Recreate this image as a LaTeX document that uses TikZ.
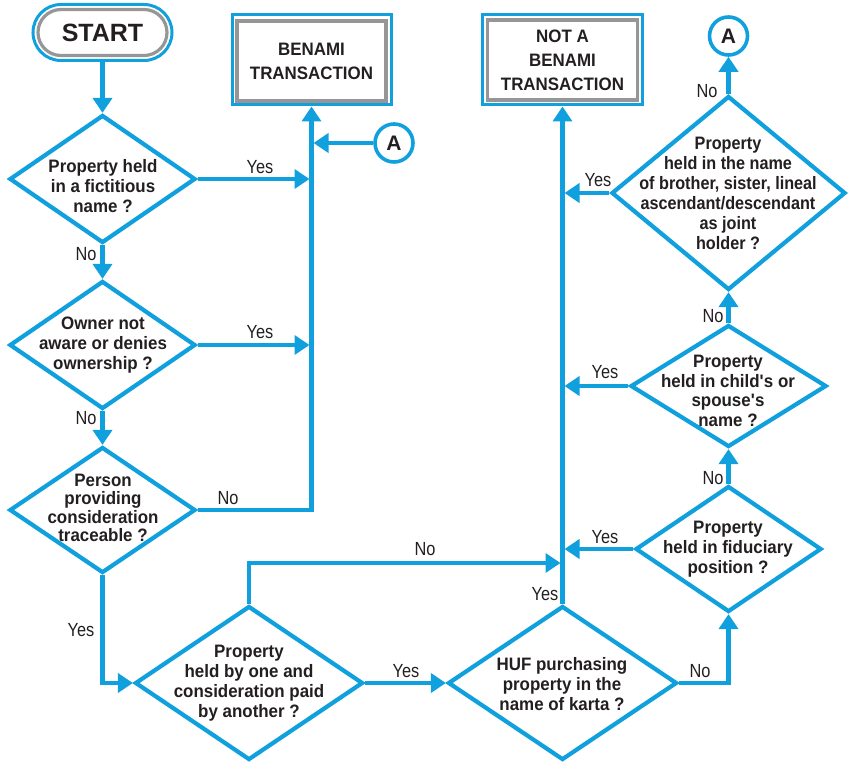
\documentclass[tikz,border=0pt]{standalone}
\usepackage{fontspec}
\setmainfont{Liberation Sans}
\newfontfamily\labfont[FakeStretch=0.86]{Liberation Sans}
\newfontfamily\dfont[FakeStretch=0.94]{Liberation Sans}
\newfontfamily\cbfont[FakeStretch=0.9]{Liberation Sans}
\usetikzlibrary{shapes.geometric,arrows.meta}
\definecolor{fblue}{RGB}{16,160,222}
\definecolor{fgray}{RGB}{150,150,150}
\definecolor{ftext}{RGB}{35,31,32}
\tikzset{
  dia/.style={diamond, draw=fblue, line width=4.2pt, inner sep=0pt, fill=white},
  dtext/.style={align=center, text=ftext, inner sep=0pt, font=\dfont\bfseries\fontsize{18}{20}\selectfont},
  outbox/.style={rectangle, draw=fblue, line width=3pt, inner sep=0pt},
  inbox/.style={rectangle, draw=fgray, line width=3.2pt, inner sep=0pt, align=center, text=ftext, font=\dfont\bfseries\fontsize{18}{24}\selectfont},
  conn/.style={draw=fblue, line width=4.2pt},
  arr/.style={conn, -{Triangle[length=15pt,width=19pt]}},
  lab/.style={text=ftext, inner sep=0pt, font=\labfont\fontsize{19}{19}\selectfont},
  circ/.style={circle, draw=fblue, line width=3.6pt, minimum size=38pt, inner sep=0pt, text=ftext, font=\bfseries\fontsize{21}{21}\selectfont}
}
\begin{document}
\begin{tikzpicture}[x=1pt,y=-1pt]
\useasboundingbox (0,0) rectangle (850,762);
% terminals and boxes
\node[outbox, minimum width=139pt, minimum height=56pt, rounded corners=28pt] (start) at (102.5,32.5) {};
\node[rectangle, draw=fgray, line width=3.2pt, minimum width=129pt, minimum height=46pt, rounded corners=23pt, text=ftext, font=\bfseries\fontsize{25}{25}\selectfont] (startin) at (start) {START};
\node[outbox, minimum width=159pt, minimum height=90pt] (benami) at (311.5,60) {};
\node[inbox, minimum width=149pt, minimum height=80pt] (benamiin) at (311.5,61) {BENAMI\\TRANSACTION};
\node[outbox, minimum width=160pt, minimum height=90pt] (nab) at (562.5,60) {};
\node[inbox, minimum width=150pt, minimum height=80pt] (nabin) at (nab) {NOT A\\BENAMI\\TRANSACTION};
\node[circ] (a1) at (394,143) {A};
\node[circ] (a2) at (728.5,36) {A};
% diamonds
\node[dia, minimum width=186pt, minimum height=128pt] (d1) at (102.5,179) {};
\node[dtext] (t1) at (103,186) {Property held\\in a fictitious\\name ?};
\node[dia, minimum width=186pt, minimum height=128pt] (d2) at (102.5,345) {};
\node[dtext] (t2) at (103,345) {Owner not\\aware or denies\\ownership ?};
\node[dia, minimum width=186pt, minimum height=126pt] (d3) at (102.5,510) {};
\node[dtext, font=\dfont\bfseries\fontsize{18}{18.5}\selectfont] (t3) at (103,508) {Person\\providing\\consideration\\traceable ?};
\node[dia, minimum width=228pt, minimum height=154pt] (d4) at (249,683) {};
\node[dtext] (t4) at (249,683) {Property\\held by one and\\consideration paid\\by another ?};
\node[dia, minimum width=229pt, minimum height=154pt] (d5) at (562.5,683) {};
\node[dtext] (t5) at (562,684) {HUF purchasing\\property in the\\name of karta ?};
\node[dia, minimum width=186pt, minimum height=126pt] (d6) at (728.5,549) {};
\node[dtext] (t6) at (728,549) {Property\\held in fiduciary\\position ?};
\node[dia, minimum width=196pt, minimum height=122pt] (d7) at (728.5,386) {};
\node[dtext, font=\dfont\bfseries\fontsize{18}{19.5}\selectfont] (t7) at (728,391) {Property\\held in child\textquotesingle s or\\spouse\textquotesingle s\\name ?};
\node[dia, minimum width=234pt, minimum height=194pt] (d8) at (728.5,193) {};
\node[dtext, font=\cbfont\bfseries\fontsize{18}{20}\selectfont] (t8) at (728,193) {Property\\held in the name\\of brother, sister, lineal\\ascendant/descendant\\as joint\\holder ?};
\coordinate (j4) at (562.5,563);
% connectors
\draw[arr] (start) -- (d1.north);
\draw[arr] (d1.south) -- (d2.north);
\draw[arr] (d2.south) -- (d3.north);
\draw[arr] (d3.east) -| (benami.south);
\draw[arr, shorten >=2pt] (d1.east) -- (d1.east -| benami.south);
\draw[arr, shorten >=2pt] (d2.east) -- (d2.east -| benami.south);
\draw[arr, shorten >=2pt] (a1.west) -- (a1.west -| benami.south);
\draw[arr] (d3.south) |- (d4.west);
\draw[arr] (d4.east) -- (d5.west);
\draw[arr, shorten >=2pt] (d4.north) |- (j4);
\draw[arr] (d5.north) -- (nab.south);
\draw[arr] (d5.east) -| (d6.south);
\draw[arr] (d6.north) -- (d7.south);
\draw[arr] (d7.north) -- (d8.south);
\draw[arr] (d8.north) -- (a2.south);
\draw[arr, shorten >=2pt] (d6.west) -- (d6.west -| nab.south);
\draw[arr, shorten >=2pt] (d7.west) -- (d7.west -| nab.south);
\draw[arr, shorten >=2pt] (d8.west) -- (d8.west -| nab.south);
% labels
\node[lab] (l1) at (260,167) {Yes};
\node[lab] (l2) at (260,332) {Yes};
\node[lab] (l3) at (86,254) {No};
\node[lab] (l4) at (86,418) {No};
\node[lab] (l5) at (228,498) {No};
\node[lab] (l6) at (81,630) {Yes};
\node[lab] (l7) at (425,549) {No};
\node[lab] (l8) at (406,671) {Yes};
\node[lab] (l9) at (545,594) {Yes};
\node[lab] (l10) at (700,671) {No};
\node[lab] (l11) at (605,537) {Yes};
\node[lab] (l12) at (713,478) {No};
\node[lab] (l13) at (605,372) {Yes};
\node[lab] (l14) at (713,316) {No};
\node[lab] (l15) at (598,180) {Yes};
\node[lab] (l16) at (707,91) {No};
\end{tikzpicture}
\end{document}
